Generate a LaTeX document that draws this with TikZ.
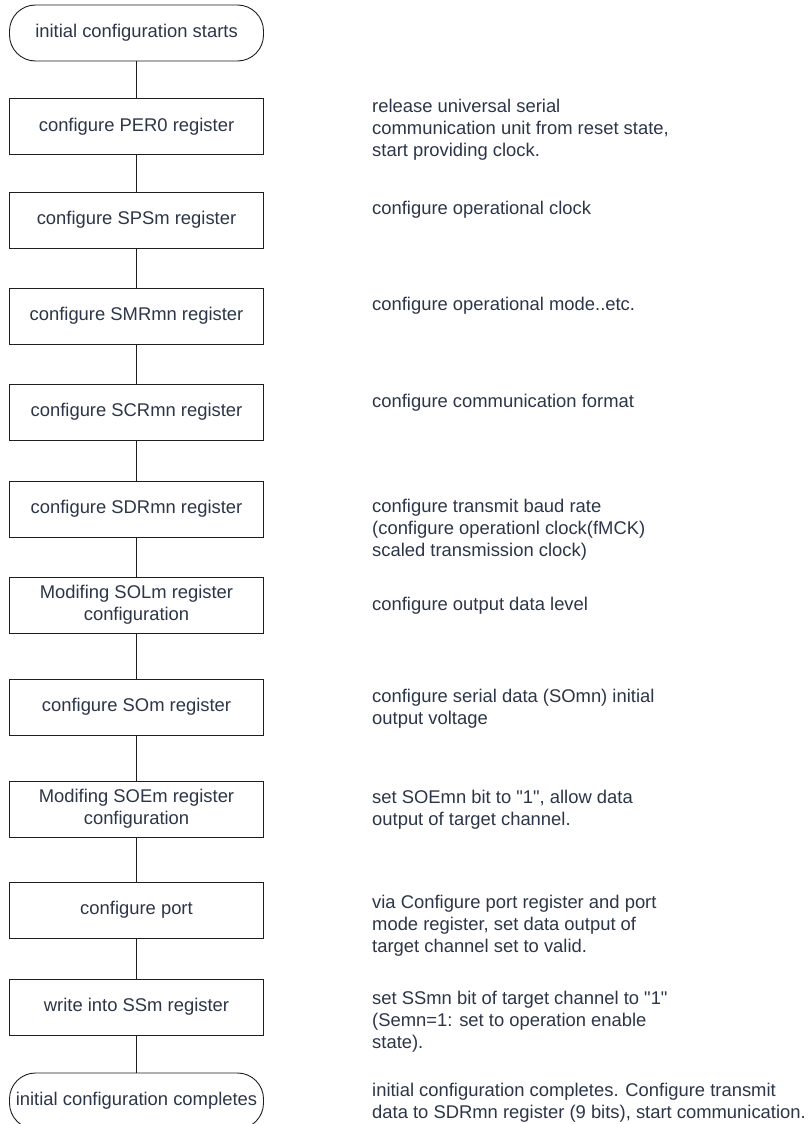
\documentclass[tikz,border=0pt]{standalone}
\usepackage{fontspec}
\setmainfont{Liberation Sans}[Ligatures=TeXOff]
\definecolor{txt}{RGB}{44,54,72}
\definecolor{ln}{RGB}{30,30,30}
\begin{document}
\begin{tikzpicture}[x=1pt,y=-1pt,
  every node/.style={font=\fontsize{18.4}{22}\selectfont, text=txt},
  stepbox/.style={draw=ln, line width=0.9pt, minimum width=254pt, minimum height=56pt, align=center, inner sep=0pt},
  termbox/.style={draw=ln, line width=0.9pt, minimum width=254pt, minimum height=56pt, rounded corners=26pt, align=center, inner sep=0pt},
  note/.style={anchor=base west, align=left, inner sep=0pt},
  conn/.style={draw=ln, line width=0.9pt}]
\clip (0,0) rectangle (807,1124);
\fill[white] (0,0) rectangle (807,1124);

\node[termbox] (s)  at (136.5,33)    {initial configuration starts};
\node[stepbox] (b1) at (136.5,126.5) {configure PER0 register};
\node[stepbox] (b2) at (136.5,220)   {configure SPSm register};
\node[stepbox] (b3) at (136.5,316)   {configure SMRmn register};
\node[stepbox] (b4) at (136.5,412)   {configure SCRmn register};
\node[stepbox] (b5) at (136.5,509)   {configure SDRmn register};
\node[stepbox] (b6) at (136.5,605)   {Modifing SOLm register\\configuration};
\node[stepbox] (b7) at (136.5,707)   {configure SOm register};
\node[stepbox] (b8) at (136.5,809)   {Modifing SOEm register\\configuration};
\node[stepbox] (b9) at (136.5,910)   {configure port};
\node[stepbox] (b10) at (136.5,1007) {write into SSm register};
\node[termbox] (e)  at (136.5,1101)  {initial configuration completes};

\draw[conn] (s) -- (b1);
\draw[conn] (b1) -- (b2);
\draw[conn] (b2) -- (b3);
\draw[conn] (b3) -- (b4);
\draw[conn] (b4) -- (b5);
\draw[conn] (b5) -- (b6);
\draw[conn] (b6) -- (b7);
\draw[conn] (b7) -- (b8);
\draw[conn] (b8) -- (b9);
\draw[conn] (b9) -- (b10);
\draw[conn] (b10) -- (e);

% base anchor of a multi-line note is the baseline of its last line
\node[note] (n1) at (372,156)  {release universal serial\\communication unit from reset state,\\start providing clock.};
\node[note] (n2) at (372,214)  {configure operational clock};
\node[note] (n3) at (372,310)  {configure operational mode..etc.};
\node[note] (n4) at (372,407)  {configure communication format};
\node[note] (n5) at (372,556)  {configure transmit baud rate\\(configure operationl clock(fMCK)\\scaled transmission clock)};
\node[note] (n6) at (372,610)  {configure output data level};
\node[note] (n7) at (372,724)  {configure serial data (SOmn) initial\\output voltage};
\node[note] (n8) at (372,825)  {set SOEmn bit to "1", allow data\\output of target channel.};
\node[note] (n9) at (372,952)  {via Configure port register and port\\mode register, set data output of\\target channel set to valid.};
\node[note] (n10) at (372,1048) {set SSmn bit of target channel to "1"\\(Semn=1: set to operation enable\\state).};
\node[note] (n11) at (372,1118) {initial configuration completes. Configure transmit\\data to SDRmn register (9 bits), start communication.};
\end{tikzpicture}
\end{document}
